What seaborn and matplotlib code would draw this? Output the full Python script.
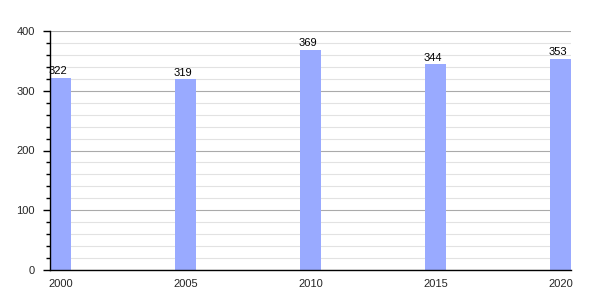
import matplotlib
matplotlib.use("Agg")
import matplotlib.pyplot as plt
import seaborn as sns
import pandas as pd
from matplotlib.ticker import MultipleLocator

years = [2000, 2005, 2010, 2015, 2020]
values = [322, 319, 369, 344, 353]

df = pd.DataFrame({"year": years, "value": values})

sns.set_style("white")
plt.rcParams['font.family'] = ['Liberation Sans', 'DejaVu Sans']

fig = plt.figure(figsize=(6, 3), dpi=100)
ax = fig.add_axes([50/600, 30/300, 521/600, 239/300])

sns.barplot(data=df, x="year", y="value", native_scale=True, width=0.168,
            color="#99aaff", saturation=1, linewidth=0, ax=ax, zorder=2)

ax.set_xlim(2000 - 0.42, 2020 + 0.42)
ax.set_ylim(0, 400)
ax.set_xticks(years)
ax.set_xticklabels([str(y) for y in years])
ax.yaxis.set_major_locator(MultipleLocator(100))
ax.yaxis.set_minor_locator(MultipleLocator(20))
ax.grid(which="major", axis="y", color="#aaaaaa", linewidth=0.8, zorder=0)
ax.grid(which="minor", axis="y", color="#e2e2e2", linewidth=0.8, zorder=0)
ax.set_axisbelow(True)
ax.set_xlabel("")
ax.set_ylabel("")

for s in ["top", "right"]:
    ax.spines[s].set_visible(False)
for s in ["left", "bottom"]:
    ax.spines[s].set_color("black")
    ax.spines[s].set_linewidth(1)

ax.tick_params(axis="y", which="major", left=True, length=5, width=1, color="black", labelsize=8, pad=6)
ax.tick_params(axis="y", which="minor", left=True, length=3, width=1, color="black")
ax.tick_params(axis="x", bottom=False, labelsize=8, pad=3)

for yr, v in zip(years, values):
    ax.text(yr - 0.1, v + 3, str(v), ha="center", va="bottom", fontsize=8, color="black")

fig.savefig("out.png", dpi=100)
